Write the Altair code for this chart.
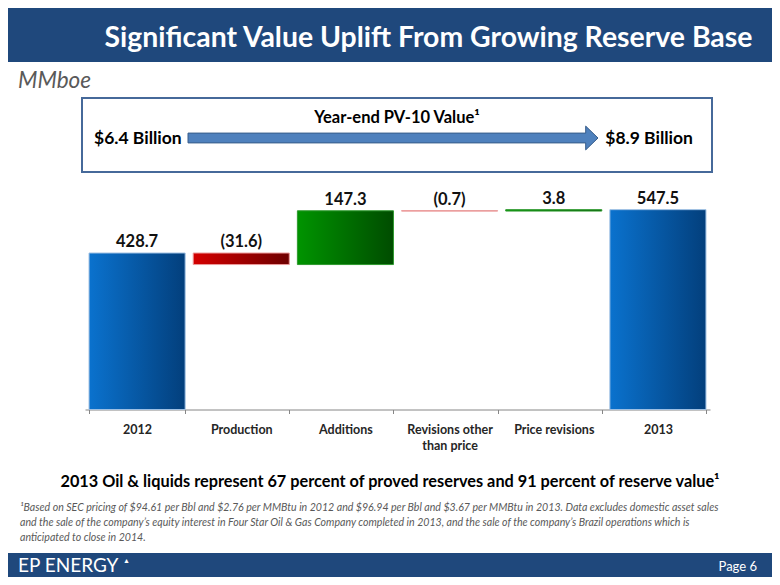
import altair as alt
import pandas as pd

# ---------------- data ----------------
categories = ["2012", "Production", "Additions", "Revisions other|than price", "Price revisions", "2013"]
values = [428.7, -31.6, 147.3, -0.7, 3.8, 547.5]
value_labels = ["428.7", "(31.6)", "147.3", "(0.7)", "3.8", "547.5"]
kinds = ["total", "decrease", "increase", "decrease", "increase", "total"]

footnote_lines = [
    "\u00b9Based on SEC pricing of $94.61 per Bbl and $2.76 per MMBtu in 2012 and $96.94 per Bbl and $3.67 per MMBtu in 2013.  Data excludes domestic asset sales",
    "and the sale of the company\u2019s equity interest in Four Star Oil & Gas Company completed in 2013, and the sale of the company\u2019s Brazil operations which is",
    "anticipated to close in 2014.",
]

# waterfall extents
lo, hi = [], []
running = 0.0
for k, v in zip(kinds, values):
    if k == "total":
        a, b = 0.0, v
        running = v
    else:
        a, b = running, running + v
        running = b
    lo.append(min(a, b))
    hi.append(max(a, b))

df = pd.DataFrame({"cat": categories, "lo": lo, "hi": hi, "label": value_labels, "kind": kinds})
one = pd.DataFrame({"k": [0]})

FONT = "Lato"

def grad(c0, c1):
    return alt.LinearGradient(
        gradient="linear",
        stops=[alt.GradientStop(color=c0, offset=0), alt.GradientStop(color=c1, offset=1)],
        x1=0, x2=1, y1=0, y2=0,
    )

xenc = alt.X(
    "cat:N",
    sort=categories,
    scale=alt.Scale(paddingInner=0.0776, paddingOuter=0.0388),
    axis=alt.Axis(
        title=None,
        labelAngle=0,
        labelExpr="split(datum.label, '|')",
        labelFont=FONT,
        labelFontSize=12.5,
        labelFontWeight="bold",
        labelColor="#262626",
        labelLineHeight=16,
        labelPadding=10,
        tickBand="extent",
        tickSize=4,
        tickColor="#868686",
        domainColor="#868686",
        grid=False,
    ),
)
yscale = alt.Scale(domain=[0, 600], nice=False, zero=True)

base = alt.Chart(df)

def bars(kind, c0, c1, stroke):
    return base.transform_filter(alt.datum.kind == kind).mark_bar(
        fill=grad(c0, c1), stroke=stroke, strokeWidth=1
    ).encode(
        x=xenc,
        y=alt.Y("lo:Q", scale=yscale, axis=None),
        y2="hi:Q",
    )

blue = bars("total", "#0A72CE", "#033F7C", "#9DBFE3")
red = bars("decrease", "#D40000", "#6E0000", "#EC9A9A")
green = bars("increase", "#009400", "#004C00", "#2E9A2E")

labels = base.mark_text(
    font=FONT, fontSize=16.5, fontWeight="bold", color="#111111", baseline="bottom", dy=-3
).encode(x=xenc, y=alt.Y("hi:Q", scale=yscale, axis=None), text="label:N")


def rect(x, x2, y, y2, fill, stroke=None, sw=0):
    kw = dict(fill=fill)
    if stroke:
        kw.update(stroke=stroke, strokeWidth=sw)
    return alt.Chart(one).mark_rect(**kw).encode(
        x=alt.value(x), x2=alt.value(x2), y=alt.value(y), y2=alt.value(y2)
    )


def txt(s, x, y, size, color="#000000", weight="normal", style="normal", align="left"):
    return alt.Chart(one).mark_text(
        text=s, font=FONT, fontSize=size, fontWeight=weight, fontStyle=style,
        color=color, align=align, baseline="middle",
    ).encode(x=alt.value(x), y=alt.value(y))


# plot-area coordinates: px = pageX - 85, py = pageY - 190.5
header = rect(-100, 720, -200, -128.5, "#1F487C")
title = txt("Significant Value Uplift From Growing Reserve Base", 343.5, -152.5, 28.4, "#FFFFFF", "bold", align="center")
unit = txt("MMboe", -67, -109.5, 22.5, "#595959", style="italic")

box = rect(-3, 627, -92.5, -18.5, "#FFFFFF", "#46699A", 2)
pv_title = txt("Year-end PV-10 Value\u00b9", 312, -72.5, 16.5, weight="bold", align="center")
left_val = txt("$6.4 Billion", 9, -51.5, 17.5, weight="bold")
right_val = txt("$8.9 Billion", 608, -51.5, 17.5, weight="bold", align="right")

arrow_path = "M -1 -0.024 L 0.94 -0.024 L 0.94 -0.058 L 1 0 L 0.94 0.058 L 0.94 0.024 L -1 0.024 Z"
arrow = alt.Chart(one).mark_point(
    shape=arrow_path, size=410 * 410, filled=True, fill="#4F81BD", stroke="#385D8A", strokeWidth=1, opacity=1
).encode(x=alt.value(308), y=alt.value(-52.5))

statement = txt(
    "2013 Oil & liquids represent 67 percent of proved reserves and 91 percent of reserve value\u00b9",
    305, 291.5, 16.3, weight="bold", align="center",
)
foot = [txt(s, -65, 317.5 + 15 * i, 10.6, "#595959", style="italic") for i, s in enumerate(footnote_lines)]

footer_bar = rect(-100, 720, 362.5, 410, "#1F487C")
logo = txt("EP ENERGY", -67, 375.5, 19, "#FFFFFF")
logo_mark = txt("\u25b2", 38, 370, 7, "#FFFFFF")
page = txt("Page 6", 672, 376.5, 13, "#FFFFFF", align="right")

chart = alt.layer(
    header, title, unit, box, pv_title, left_val, right_val, arrow,
    blue, red, green, labels,
    statement, *foot, footer_bar, logo, logo_mark, page,
).properties(
    width=625,
    height=219,
    autosize=alt.AutoSizeParams(type="none"),
    padding={"left": 77, "top": 182.5, "right": 62, "bottom": 167.5},
).configure_view(stroke=None)

chart.save("out.html", embed_options={"renderer": "svg", "actions": False})
